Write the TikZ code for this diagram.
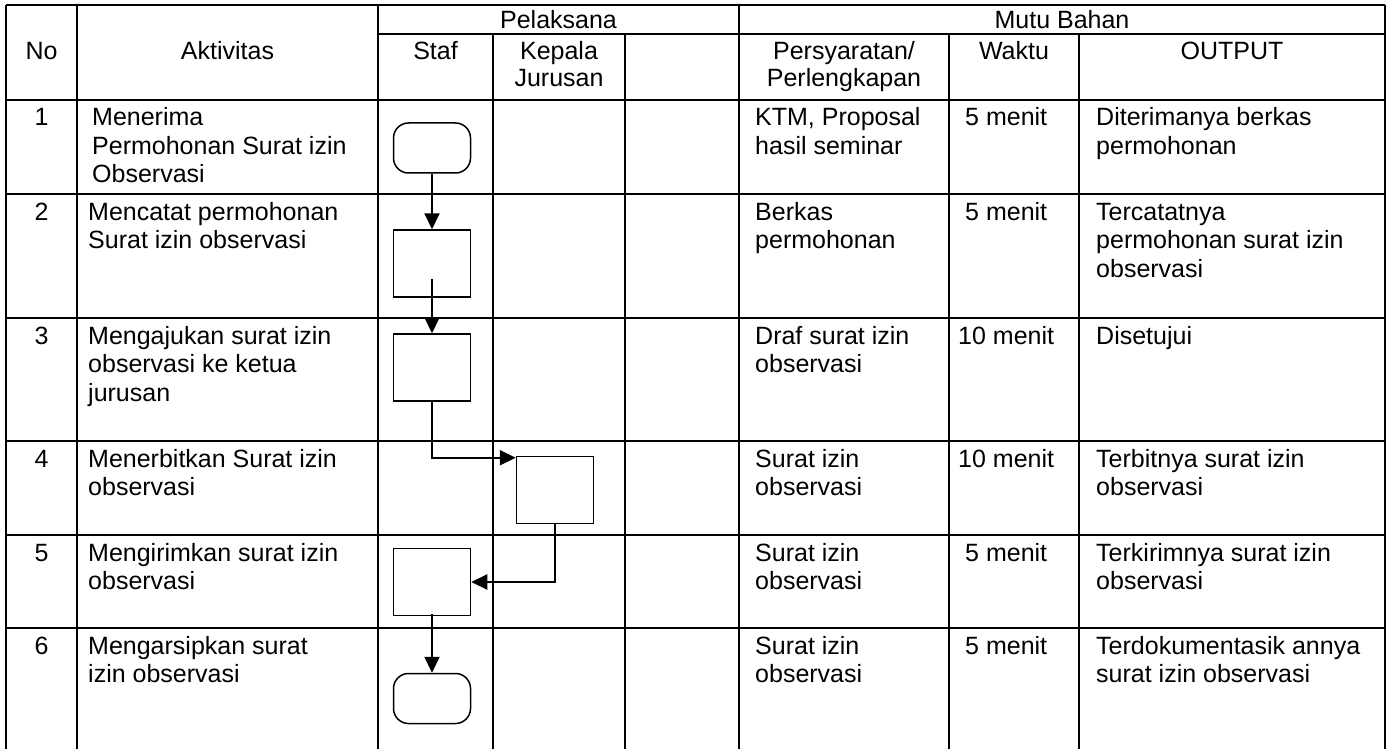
\documentclass[tikz,border=0pt]{standalone}
\usepackage{fontspec}
\setmainfont{Liberation Sans}
\usetikzlibrary{arrows.meta}
\newcommand{\celltext}[1]{\begin{tabular}[t]{@{}l@{}}#1\end{tabular}}
\newcommand{\headtext}[1]{\begin{tabular}[t]{@{}c@{}}#1\end{tabular}}

\begin{document}
\begin{tikzpicture}[x=1pt,y=-1pt,
  grid/.style={line width=2pt},
  head/.style={anchor=base, inner sep=0pt, font=\fontsize{25}{27}\selectfont},
  cell/.style={anchor=base west, inner sep=0pt, font=\fontsize{25}{28.5}\selectfont},
  proc/.style={draw, line width=1.5pt, minimum width=77pt, minimum height=67pt, inner sep=0pt},
  term/.style={draw, line width=1.5pt, minimum width=77pt, minimum height=50pt, inner sep=0pt, rounded corners=15pt},
  flow/.style={line width=2.2pt, -{Triangle[length=16pt,width=15pt]}}]
\useasboundingbox (0,0) rectangle (1393,749);
% table lines
\draw[grid] (6,5) -- (1385,5);
\draw[grid] (378,34) -- (1385,34);
\foreach \y in {100,194,318,441,535,628} \draw[grid] (6,\y) -- (1385,\y);
\foreach \x in {6,77,378,739,1385} \draw[grid] (\x,5) -- (\x,749);
\foreach \x in {493,625,949,1079} \draw[grid] (\x,34) -- (\x,749);
% header
\node[head] (hno) at (41.5,60) {No};
\node[head] (hakt) at (227.5,60) {Aktivitas};
\node[head] (hpel) at (558.5,29) {Pelaksana};
\node[head] (hmutu) at (1062,29) {Mutu Bahan};
\node[head] (hstaf) at (435.5,60) {Staf};
\node[head] (hkep) at (559,60) {\headtext{Kepala\\Jurusan}};
\node[head] (hsyarat) at (844,60) {\headtext{Persyaratan/\\Perlengkapan}};
\node[head] (hwaktu) at (1014,60) {Waktu};
\node[head] (hout) at (1232,60) {OUTPUT};
% numbers
\foreach \n/\y in {1/126,2/220,3/344,4/467,5/561,6/654}
  \node[head] (no\n) at (41.5,\y) {\n};
% row 1
\node[cell] (akt1) at (92,126) {\celltext{Menerima\\Permohonan Surat izin\\Observasi}};
\node[cell] (syr1) at (755,126) {\celltext{KTM, Proposal\\hasil seminar}};
\node[cell] (wkt1) at (965,126) {5 menit};
\node[cell] (out1) at (1096,126) {\celltext{Diterimanya berkas\\permohonan}};
% row 2
\node[cell] (akt2) at (88,220) {\celltext{Mencatat permohonan\\Surat izin observasi}};
\node[cell] (syr2) at (755,220) {\celltext{Berkas\\permohonan}};
\node[cell] (wkt2) at (965,220) {5 menit};
\node[cell] (out2) at (1096,220) {\celltext{Tercatatnya\\permohonan surat izin\\observasi}};
% row 3
\node[cell] (akt3) at (88,344) {\celltext{Mengajukan surat izin\\observasi ke ketua\\jurusan}};
\node[cell] (syr3) at (755,344) {\celltext{Draf surat izin\\observasi}};
\node[cell] (wkt3) at (958,344) {10 menit};
\node[cell] (out3) at (1096,344) {Disetujui};
% row 4
\node[cell] (akt4) at (88,467) {\celltext{Menerbitkan Surat izin\\observasi}};
\node[cell] (syr4) at (755,467) {\celltext{Surat izin\\observasi}};
\node[cell] (wkt4) at (958,467) {10 menit};
\node[cell] (out4) at (1096,467) {\celltext{Terbitnya surat izin\\observasi}};
% row 5
\node[cell] (akt5) at (88,561) {\celltext{Mengirimkan surat izin\\observasi}};
\node[cell] (syr5) at (755,561) {\celltext{Surat izin\\observasi}};
\node[cell] (wkt5) at (965,561) {5 menit};
\node[cell] (out5) at (1096,561) {\celltext{Terkirimnya surat izin\\observasi}};
% row 6
\node[cell] (akt6) at (88,654) {\celltext{Mengarsipkan surat\\izin observasi}};
\node[cell] (syr6) at (755,654) {\celltext{Surat izin\\observasi}};
\node[cell] (wkt6) at (965,654) {5 menit};
\node[cell] (out6) at (1096,654) {\celltext{Terdokumentasik annya\\surat izin observasi}};
% flow
\node[term] (t1) at (432,148) {};
\node[proc] (p2) at (432,263.5) {};
\node[proc] (p3) at (432,367.5) {};
\node[proc] (p4) at (555,490) {};
\node[proc] (p5) at (432,582) {};
\node[term] (t6) at (432,698.5) {};
\draw[flow] (t1) -- (p2);
\draw[flow] ([yshift=19pt]p2.south) -- (p3.north);
\draw[flow] (p3.south) |- ([yshift=-2pt]p4.north west);
\draw[flow] (p4.south) |- (p5.east);
\draw[flow] ([yshift=2pt]p5.south) -- (t6.north);
\end{tikzpicture}
\end{document}
